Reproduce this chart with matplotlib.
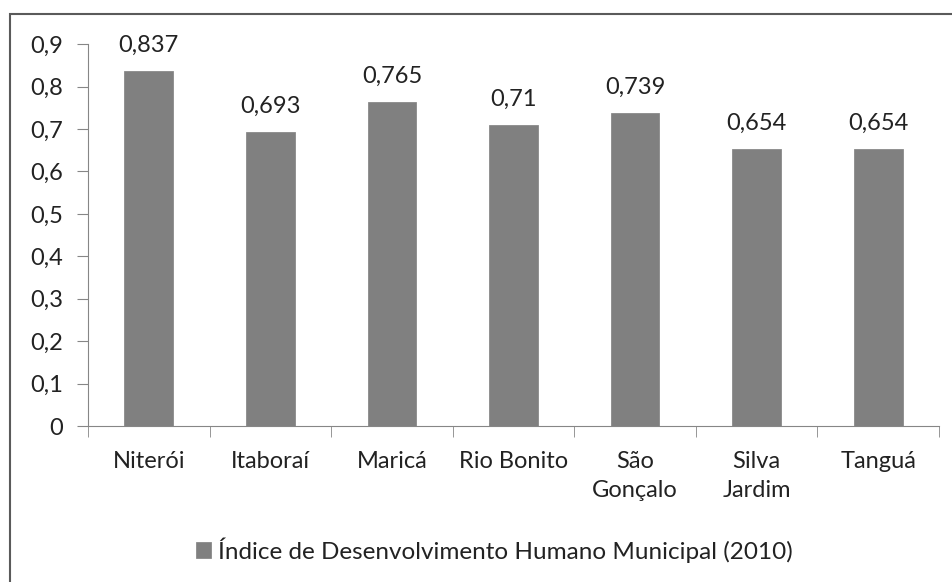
import matplotlib.pyplot as plt
from matplotlib.patches import Rectangle
import numpy as np

plt.rcParams['font.family'] = ['Lato', 'DejaVu Sans']

cidades = ['Niterói', 'Itaboraí', 'Maricá', 'Rio Bonito', 'São\nGonçalo', 'Silva\nJardim', 'Tanguá']
idhm = [0.837, 0.693, 0.765, 0.71, 0.739, 0.654, 0.654]
rotulos = ['0,837', '0,693', '0,765', '0,71', '0,739', '0,654', '0,654']
yticks = [0, 0.1, 0.2, 0.3, 0.4, 0.5, 0.6, 0.7, 0.8, 0.9]
ytick_labels = ['0', '0,1', '0,2', '0,3', '0,4', '0,5', '0,6', '0,7', '0,8', '0,9']
legenda = 'Índice de Desenvolvimento Humano Municipal (2010)'

fig = plt.figure(figsize=(9.53, 5.82), dpi=100)
ax = fig.add_axes([0.0923, 0.268, 0.893, 0.656])

# moldura do gráfico (só topo e esquerda aparecem)
fig.patches.append(Rectangle((10/953, -0.1), 1.2, 1 - 14/582 + 0.1, transform=fig.transFigure,
                             fill=False, edgecolor='#5a5a5a', linewidth=1.5))

x = np.arange(len(cidades))
bars = ax.bar(x, idhm, width=0.4, color='#808080', edgecolor='#8a8a8a', linewidth=0.6,
              label=legenda)
for b, t in zip(bars, rotulos):
    ax.text(b.get_x() + b.get_width()/2, b.get_height() + 0.035, t,
            ha='center', va='bottom', fontsize=17, color='#222222')

ax.set_xlim(-0.5, len(cidades) - 0.5)
ax.set_ylim(0, 0.9)
ax.set_yticks(yticks)
ax.set_yticklabels(ytick_labels)
ax.set_xticks(x)
ax.set_xticklabels(cidades, linespacing=1.45)
ax.set_xticks(np.arange(len(cidades) + 1) - 0.5, minor=True)
ax.tick_params(axis='x', which='major', length=0, pad=18, labelsize=17, colors='#222222')
ax.tick_params(axis='x', which='minor', length=8, color='#868686')
ax.tick_params(axis='y', length=8, color='#868686', labelsize=17, labelcolor='#222222', pad=10)

for s in ['top', 'right']:
    ax.spines[s].set_visible(False)
for s in ['left', 'bottom']:
    ax.spines[s].set_color('#868686')

fig.legend(loc='center', bbox_to_anchor=(0.519, 1 - 550/582), frameon=False, fontsize=17.5,
           handlelength=0.6, handleheight=0.6, handletextpad=0.3, labelcolor='#222222')

fig.savefig('out.png', dpi=100)
